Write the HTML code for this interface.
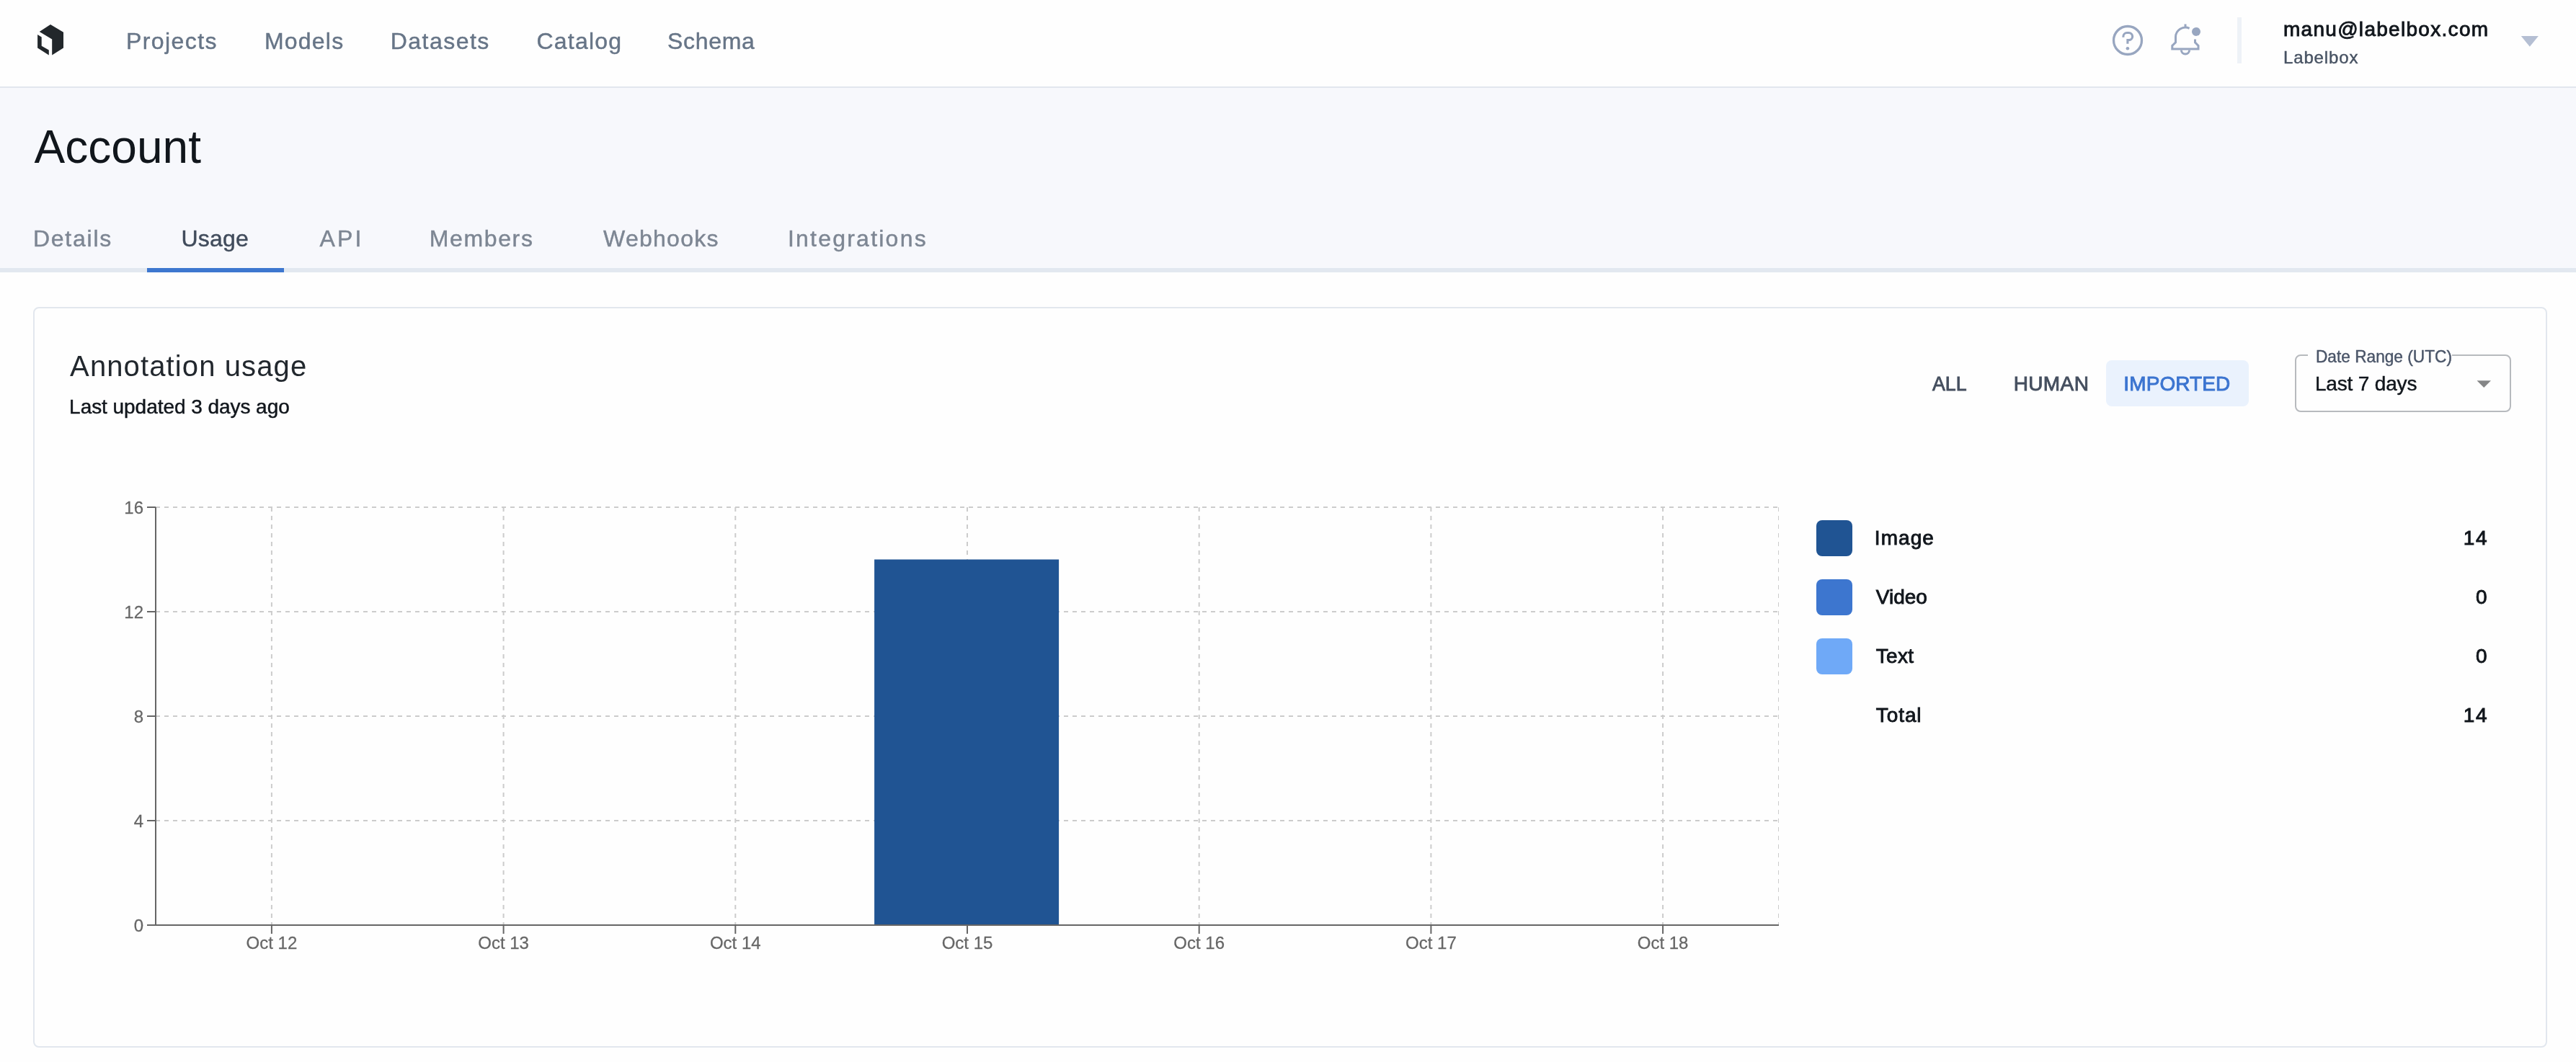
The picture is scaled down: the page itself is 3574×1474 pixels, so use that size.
<!DOCTYPE html>
<html lang="en">
<head>
<meta charset="utf-8">
<title>Account - Usage</title>
<style>
*{box-sizing:border-box;margin:0;padding:0}
html,body{width:3574px;height:1474px;overflow:hidden;background:#fefefe;font-family:"Liberation Sans", sans-serif;}
.t{position:absolute;white-space:nowrap;display:block;font-family:"Liberation Sans", sans-serif;font-weight:400;font-style:normal;text-decoration:none;background:none;border:0;padding:0;margin:0;text-align:left}
#nav{position:absolute;left:0;top:0;width:3574px;height:122px;background:#fefefe;border-bottom:2px solid #e2e6ee}
#hdr{position:absolute;left:0;top:122px;width:3574px;height:250px;background:#f7f8fc}
#tabline{position:absolute;left:0;top:372px;width:3574px;height:6px;background:#e2e8f0}
#tabsel{position:absolute;left:204px;top:372px;width:190px;height:6px;background:#3d77cf}
#card{position:absolute;left:46px;top:426px;width:3488px;height:1028px;border:2px solid #e2e7ee;border-radius:8px;background:#fefefe}
#vdiv{position:absolute;left:3104px;top:24px;width:6px;height:64px;background:#eef2f7}
#btnsel{position:absolute;left:2922px;top:500px;width:198px;height:64px;border-radius:8px;background:#eaf2fd}
#sel{position:absolute;left:3184px;top:492px;width:300px;height:80px;border:2px solid #b7babe;border-radius:8px}
#selnotch{position:absolute;left:3202px;top:490px;width:200px;height:6px;background:#fefefe}
.sw{position:absolute;left:2520px;width:50px;height:50px;border-radius:8px}
svg{position:absolute;left:0;top:0;overflow:visible;will-change:transform}
#txt{position:absolute;left:0;top:0;width:3574px;height:1474px;will-change:transform}
svg text{font-family:"Liberation Sans", sans-serif;font-size:24px;fill:#666666;stroke:#666666;stroke-width:0.26px}
</style>
</head>
<body>
<div id="nav"></div>
<div id="hdr"></div>
<div id="tabline"></div>
<div id="tabsel"></div>
<div id="card"></div>
<div id="vdiv"></div>
<div id="btnsel"></div>
<div id="sel"></div>
<div id="selnotch"></div>
<div class="sw" style="top:722px;background:#205493"></div>
<div class="sw" style="top:804px;background:#3d76cf"></div>
<div class="sw" style="top:886px;background:#6fa9f7"></div>

<!-- icons -->
<svg width="3574" height="1474" viewBox="0 0 3574 1474">
<!-- logo -->
<g fill="#22272b">
<path d="M70,34 L88,44.7 L88,66.6 L72.2,76.5 L72.2,54.4 L54.7,43.9 Z"/>
<path d="M52.1,48 L57.7,51.4 L57.7,63.7 L67.8,69.5 L67.8,76.5 L52.1,66.6 Z"/>
</g>
<!-- help icon -->
<g fill="none" stroke="#98a6c0" stroke-width="3.3">
<circle cx="2952" cy="56" r="19.5"/>
<path d="M2945.9,51.8 V50.6 A5.1,5.1 0 0 1 2951,45.5 H2953.6 A5.05,5.05 0 0 1 2953.6,55.6 H2951.9 V60.8" stroke-width="3.1" stroke-linejoin="miter"/>
</g>
<circle cx="2951.9" cy="67.2" r="2.3" fill="#98a6c0"/>
<!-- bell -->
<g fill="none" stroke="#98a6c0" stroke-width="3" stroke-linejoin="miter" stroke-linecap="butt">
<path d="M3037.6,39.3 A13.5,13.5 0 0 0 3018.5,51.6 V58.9 L3013.8,63.4 V68 H3050 V63.4 L3045.5,58.9 V54.4"/>
<path d="M3032,33.5 V38.5"/>
<path d="M3026.4,69.5 A5.6,5.6 0 0 0 3037.6,69.5"/>
</g>
<circle cx="3047" cy="43.9" r="6" fill="#98a6c0"/>
<!-- nav caret -->
<path d="M3497.8,50.1 L3521.9,50.1 L3509.85,64.7 Z" fill="#b5bfd3"/>
<!-- select caret -->
<path d="M3436.5,528.2 L3456,528.2 L3446.25,537.9 Z" fill="#858687"/>

</svg>

<!-- chart -->
<svg width="3574" height="1474" viewBox="0 0 3574 1474">
<line x1="216" y1="704.0" x2="2468" y2="704.0" stroke="#cccccc" stroke-width="2" stroke-dasharray="6 6"/>
<line x1="216" y1="849.0" x2="2468" y2="849.0" stroke="#cccccc" stroke-width="2" stroke-dasharray="6 6"/>
<line x1="216" y1="994.0" x2="2468" y2="994.0" stroke="#cccccc" stroke-width="2" stroke-dasharray="6 6"/>
<line x1="216" y1="1139.0" x2="2468" y2="1139.0" stroke="#cccccc" stroke-width="2" stroke-dasharray="6 6"/>
<line x1="216" y1="1284.0" x2="2468" y2="1284.0" stroke="#cccccc" stroke-width="2" stroke-dasharray="6 6"/>
<line x1="216.0" y1="704" x2="216.0" y2="1284" stroke="#cccccc" stroke-width="2" stroke-dasharray="6 6"/>
<line x1="376.9" y1="704" x2="376.9" y2="1284" stroke="#cccccc" stroke-width="2" stroke-dasharray="6 6"/>
<line x1="698.6" y1="704" x2="698.6" y2="1284" stroke="#cccccc" stroke-width="2" stroke-dasharray="6 6"/>
<line x1="1020.3" y1="704" x2="1020.3" y2="1284" stroke="#cccccc" stroke-width="2" stroke-dasharray="6 6"/>
<line x1="1342.0" y1="704" x2="1342.0" y2="1284" stroke="#cccccc" stroke-width="2" stroke-dasharray="6 6"/>
<line x1="1663.7" y1="704" x2="1663.7" y2="1284" stroke="#cccccc" stroke-width="2" stroke-dasharray="6 6"/>
<line x1="1985.4" y1="704" x2="1985.4" y2="1284" stroke="#cccccc" stroke-width="2" stroke-dasharray="6 6"/>
<line x1="2307.1" y1="704" x2="2307.1" y2="1284" stroke="#cccccc" stroke-width="2" stroke-dasharray="6 6"/>
<line x1="2467.5" y1="704" x2="2467.5" y2="1284" stroke="#cccccc" stroke-width="1" stroke-dasharray="6 6"/>
<rect x="1213.1" y="776.5" width="256.0" height="507.5" fill="#205493"/>
<line x1="216" y1="1284" x2="2468" y2="1284" stroke="#666666" stroke-width="2"/>
<line x1="216" y1="704" x2="216" y2="1284" stroke="#666666" stroke-width="2"/>
<line x1="376.9" y1="1284" x2="376.9" y2="1296" stroke="#666666" stroke-width="2"/>
<text x="376.9" y="1317" text-anchor="middle">Oct 12</text>
<line x1="698.6" y1="1284" x2="698.6" y2="1296" stroke="#666666" stroke-width="2"/>
<text x="698.6" y="1317" text-anchor="middle">Oct 13</text>
<line x1="1020.3" y1="1284" x2="1020.3" y2="1296" stroke="#666666" stroke-width="2"/>
<text x="1020.3" y="1317" text-anchor="middle">Oct 14</text>
<line x1="1342.0" y1="1284" x2="1342.0" y2="1296" stroke="#666666" stroke-width="2"/>
<text x="1342.0" y="1317" text-anchor="middle">Oct 15</text>
<line x1="1663.7" y1="1284" x2="1663.7" y2="1296" stroke="#666666" stroke-width="2"/>
<text x="1663.7" y="1317" text-anchor="middle">Oct 16</text>
<line x1="1985.4" y1="1284" x2="1985.4" y2="1296" stroke="#666666" stroke-width="2"/>
<text x="1985.4" y="1317" text-anchor="middle">Oct 17</text>
<line x1="2307.1" y1="1284" x2="2307.1" y2="1296" stroke="#666666" stroke-width="2"/>
<text x="2307.1" y="1317" text-anchor="middle">Oct 18</text>
<line x1="204" y1="704.0" x2="216" y2="704.0" stroke="#666666" stroke-width="2"/>
<text x="199" y="713.3" text-anchor="end">16</text>
<line x1="204" y1="849.0" x2="216" y2="849.0" stroke="#666666" stroke-width="2"/>
<text x="199" y="858.3" text-anchor="end">12</text>
<line x1="204" y1="994.0" x2="216" y2="994.0" stroke="#666666" stroke-width="2"/>
<text x="199" y="1003.3" text-anchor="end">8</text>
<line x1="204" y1="1139.0" x2="216" y2="1139.0" stroke="#666666" stroke-width="2"/>
<text x="199" y="1148.3" text-anchor="end">4</text>
<line x1="204" y1="1284.0" x2="216" y2="1284.0" stroke="#666666" stroke-width="2"/>
<text x="199" y="1293.3" text-anchor="end">0</text>
</svg>

<div id="txt">
<nav>
<a class="t" style="left:175.03px;top:38.70px;font-size:32px;line-height:36px;color:#677587;letter-spacing:1.422px;-webkit-text-stroke:0.45px #677587;">Projects</a>
<a class="t" style="left:366.93px;top:38.70px;font-size:32px;line-height:36px;color:#677587;letter-spacing:1.219px;-webkit-text-stroke:0.45px #677587;">Models</a>
<a class="t" style="left:541.73px;top:38.70px;font-size:32px;line-height:36px;color:#677587;letter-spacing:1.481px;-webkit-text-stroke:0.45px #677587;">Datasets</a>
<a class="t" style="left:744.43px;top:38.70px;font-size:32px;line-height:36px;color:#677587;letter-spacing:1.225px;-webkit-text-stroke:0.45px #677587;">Catalog</a>
<a class="t" style="left:925.93px;top:38.70px;font-size:32px;line-height:36px;color:#677587;letter-spacing:0.711px;-webkit-text-stroke:0.45px #677587;">Schema</a>
<div class="t" style="left:3167.95px;top:24.80px;font-size:28px;line-height:31px;color:#11161c;letter-spacing:1.293px;-webkit-text-stroke:0.9px #11161c;">manu@labelbox.com</div>
<div class="t" style="left:3167.92px;top:65.80px;font-size:24px;line-height:27px;color:#485363;letter-spacing:0.890px;-webkit-text-stroke:0.45px #485363;">Labelbox</div>
</nav>
<header>
<h1 class="t" style="left:47.40px;top:168.10px;font-size:64px;line-height:72px;color:#11161c;letter-spacing:0.055px;">Account</h1>
<div role="tablist">
<a class="t" style="left:45.93px;top:312.70px;font-size:32px;line-height:36px;color:#7d8693;letter-spacing:1.773px;-webkit-text-stroke:0.45px #7d8693;">Details</a>
<a class="t" style="left:251.53px;top:312.70px;font-size:32px;line-height:36px;color:#414c5c;letter-spacing:0.187px;-webkit-text-stroke:0.45px #414c5c;">Usage</a>
<a class="t" style="left:443.53px;top:312.70px;font-size:32px;line-height:36px;color:#7d8693;letter-spacing:3.181px;-webkit-text-stroke:0.45px #7d8693;">API</a>
<a class="t" style="left:595.83px;top:312.70px;font-size:32px;line-height:36px;color:#7d8693;letter-spacing:1.615px;-webkit-text-stroke:0.45px #7d8693;">Members</a>
<a class="t" style="left:837.02px;top:312.70px;font-size:32px;line-height:36px;color:#7d8693;letter-spacing:1.263px;-webkit-text-stroke:0.45px #7d8693;">Webhooks</a>
<a class="t" style="left:1092.92px;top:312.70px;font-size:32px;line-height:36px;color:#7d8693;letter-spacing:2.230px;-webkit-text-stroke:0.45px #7d8693;">Integrations</a>
</div>
</header>
<section>
<h2 class="t" style="left:97.10px;top:486.00px;font-size:40px;line-height:44px;color:#22282e;letter-spacing:1.112px;">Annotation usage</h2>
<p class="t" style="left:96.12px;top:548.70px;font-size:28px;line-height:31px;color:#11161c;letter-spacing:-0.048px;-webkit-text-stroke:0.45px #11161c;">Last updated 3 days ago</p>
<div class="filters">
<button class="t" style="left:2681.13px;top:517.20px;font-size:28px;line-height:31px;color:#454f5f;transform:scaleX(0.9552);transform-origin:0 0;-webkit-text-stroke:0.9px #454f5f;">ALL</button>
<button class="t" style="left:2793.65px;top:517.20px;font-size:28px;line-height:31px;color:#454f5f;letter-spacing:0.390px;-webkit-text-stroke:0.9px #454f5f;">HUMAN</button>
<button class="t" style="left:2946.35px;top:517.20px;font-size:28px;line-height:31px;color:#3b74d0;letter-spacing:0.092px;-webkit-text-stroke:0.9px #3b74d0;">IMPORTED</button>
<label class="t" style="left:3212.97px;top:480.90px;font-size:24px;line-height:27px;color:#4a5568;transform:scaleX(0.9445);transform-origin:0 0;-webkit-text-stroke:0.45px #4a5568;">Date Range (UTC)</label>
<div class="t" style="left:3211.92px;top:516.70px;font-size:28px;line-height:31px;color:#11161c;letter-spacing:-0.165px;-webkit-text-stroke:0.45px #11161c;">Last 7 days</div>
</div>
<div class="legend">
<span class="t" style="left:2600.85px;top:731.00px;font-size:28px;line-height:31px;color:#11161c;letter-spacing:1.063px;-webkit-text-stroke:0.9px #11161c;">Image</span>
<span class="t" style="left:2602.85px;top:813.00px;font-size:28px;line-height:31px;color:#11161c;letter-spacing:-0.009px;-webkit-text-stroke:0.9px #11161c;">Video</span>
<span class="t" style="left:2602.85px;top:895.00px;font-size:28px;line-height:31px;color:#11161c;letter-spacing:0.276px;-webkit-text-stroke:0.9px #11161c;">Text</span>
<span class="t" style="left:2602.85px;top:977.00px;font-size:28px;line-height:31px;color:#11161c;letter-spacing:0.894px;-webkit-text-stroke:0.9px #11161c;">Total</span>
<span class="t" style="left:3417.75px;top:731.00px;font-size:28px;line-height:31px;color:#11161c;letter-spacing:1.628px;-webkit-text-stroke:0.9px #11161c;">14</span>
<span class="t" style="left:3434.95px;top:813.00px;font-size:28px;line-height:31px;color:#11161c;-webkit-text-stroke:0.9px #11161c;">0</span>
<span class="t" style="left:3434.95px;top:895.00px;font-size:28px;line-height:31px;color:#11161c;-webkit-text-stroke:0.9px #11161c;">0</span>
<span class="t" style="left:3417.75px;top:977.00px;font-size:28px;line-height:31px;color:#11161c;letter-spacing:1.628px;-webkit-text-stroke:0.9px #11161c;">14</span>
</div>
</section>
</div>
</body>
</html>
